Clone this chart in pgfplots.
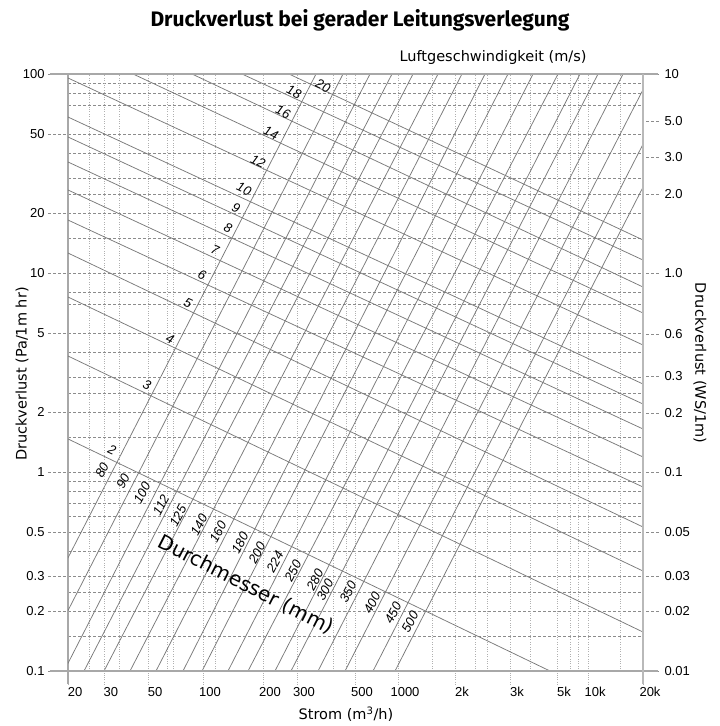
\documentclass[border=0pt]{standalone}
\usepackage{fontspec}
\setmainfont{Liberation Sans}
\newfontfamily\dejavu{DejaVu Sans}
\newfontfamily\fira{Fira Sans}
\usepackage{pgfplots}
\pgfplotsset{compat=1.18}
\definecolor{lin}{HTML}{7A7A7A}
\definecolor{axl}{HTML}{A8A8A8}
\definecolor{grd}{HTML}{8C8C8C}
\definecolor{vgrd}{HTML}{B0B0B0}
\pgfplotsset{myax/.style={at={(68pt,55pt)}, anchor=south west, scale only axis,
  width=575pt, height=597pt, xmin=20, xmax=20000, ymin=0.1, ymax=100,
  tick label style={font=\fontsize{13}{13}\selectfont}, minor tick length=0pt},
  dl/.style={lin, solid, line width=0.75pt, mark=none}}
\begin{document}
\begin{tikzpicture}
\useasboundingbox (0,0) rectangle (720pt,726pt);
% left ticks + horizontal grid
\begin{loglogaxis}[myax, axis line style={draw=none}, xtick=\empty,
  ytick={0.1,0.2,0.3,0.5,1,2,5,10,20,50,100},
  yticklabels={0.1,0.2,0.3,0.5,1,2,5,10,20,50,100},
  minor ytick={0.15,0.25,0.4,0.6,0.7,0.8,0.9,1.5,2.5,3,4,7,8,15,25,30,40,70,80,90},
  ytick pos=left, tick align=outside, major tick length=20pt,
  ymajorgrids, yminorgrids,
  grid style={grd, dash pattern=on 3pt off 2pt, line width=0.5pt},
  tick style={grd, dash pattern=on 3pt off 2pt, line width=0.5pt}]
\end{loglogaxis}
% bottom ticks + vertical grid
\begin{loglogaxis}[myax, axis line style={draw=none}, ytick=\empty,
  xtick={20,30.8,52.3,101.3,208.2,313.3,628.8,1053.9,2090,4048,7118,10332,20000},
  xticklabels={20,30,50,100,200,300,500,1000,2k,3k,5k,10k,20k},
  minor xtick={25.7,36.9,65.7,70.6,116.9,482.6,564.3,1585.6,2658,3070,5146,8318,9158,15172},
  xtick pos=bottom, tick align=outside, major tick length=13pt,
  xmajorgrids, xminorgrids,
  grid style={vgrd, dotted, line width=0.6pt},
  tick style={vgrd, dotted, line width=0.6pt},
  xticklabel style={xshift=7pt}]
\end{loglogaxis}
% right ticks
\begin{loglogaxis}[myax, ymin=0.01, ymax=10, axis line style={draw=none}, xtick=\empty,
  ytick={10,5.81,3.83,2.49,1,0.493,0.304,0.198,0.1,0.05,0.03,0.02,0.01},
  yticklabels={10,5.0,3.0,2.0,1.0,0.6,0.3,0.2,0.1,0.05,0.03,0.02,0.01},
  ytick pos=right, yticklabel pos=right, tick align=outside, major tick length=16pt,
  tick style={grd, dash pattern=on 3pt off 2pt, line width=0.5pt},
  yticklabel style={xshift=2pt}]
\end{loglogaxis}
% data
\begin{loglogaxis}[myax, xtick=\empty, ytick=\empty, axis line style={axl, line width=1.2pt}]
% velocity lines (m/s)
\addplot[dl] coordinates {(20,1.466) (6544,0.1)};
\addplot[dl] coordinates {(20,3.828) (20000,0.1570)};
\addplot[dl] coordinates {(20,7.575) (20000,0.3180)};
\addplot[dl] coordinates {(20,12.60) (20000,0.5292)};
\addplot[dl] coordinates {(20,18.46) (20000,0.8407)};
\addplot[dl] coordinates {(20,26.13) (20000,1.190)};
\addplot[dl] coordinates {(20,36.13) (20000,1.645)};
\addplot[dl] coordinates {(20,48.25) (20000,2.196)};
\addplot[dl] coordinates {(20,60.78) (20000,2.768)};
\addplot[dl] coordinates {(20,95.48) (20000,4.347)};
\addplot[dl] coordinates {(43.7,100) (20000,6.295)};
\addplot[dl] coordinates {(88.7,100) (20000,8.503)};
\addplot[dl] coordinates {(161.8,100) (20000,11.62)};
\addplot[dl] coordinates {(284.4,100) (20000,14.65)};
% diameter lines (mm)
\addplot[dl] coordinates {(9.96,0.1) (393.6,100)};
\addplot[dl] coordinates {(13.78,0.1) (544.4,100)};
\addplot[dl] coordinates {(19.07,0.1) (752.8,100)};
\addplot[dl] coordinates {(24.24,0.1) (980.4,100)};
\addplot[dl] coordinates {(30.83,0.1) (1262,100)};
\addplot[dl] coordinates {(42.13,0.1) (1704,100)};
\addplot[dl] coordinates {(57.56,0.1) (2272,100)};
\addplot[dl] coordinates {(79.62,0.1) (2996,100)};
\addplot[dl] coordinates {(100.06,0.1) (3950,100)};
\addplot[dl] coordinates {(136.7,0.1) (5336,100)};
\addplot[dl] coordinates {(173.9,0.1) (7204,100)};
\addplot[dl] coordinates {(240.4,0.1) (9386,100)};
\addplot[dl] coordinates {(291.4,0.1) (11650,100)};
\addplot[dl] coordinates {(403.2,0.1) (15728,100)};
\addplot[dl] coordinates {(557.6,0.1) (22020,100)};
\addplot[dl] coordinates {(780.6,0.1) (30820,100)};
\addplot[dl] coordinates {(1016.6,0.1) (40140,100)};
\end{loglogaxis}
\begin{scope}[x=1pt,y=1pt]
% axis extensions
\draw[axl, line width=1.2pt] (50,652) -- (658,652);
\draw[axl, line width=1.2pt] (50,55) -- (658,55);
\draw[axl, line width=1.2pt] (68,42) -- (68,55);
\draw[axl!80, line width=2.4pt] (643,42) -- (643,652);
% velocity labels
\begin{scope}[every node/.style={font=\itshape\fontsize{13}{13}\selectfont, rotate=-25, inner sep=0pt}]
\node at (323,640) {20};
\node at (294,634) {18};
\node at (283,614) {16};
\node at (271,593) {14};
\node at (258,565) {12};
\node at (244,537) {10};
\node at (236,518) {9};
\node at (228,498) {8};
\node at (215,476) {7};
\node at (202,451) {6};
\node at (188,423) {5};
\node at (170,387) {4};
\node at (147,341) {3};
\node at (112,276) {2};
\end{scope}
% diameter labels
\begin{scope}[every node/.style={font=\itshape\fontsize{13}{13}\selectfont, rotate=62, inner sep=0pt}]
\node at (102,256) {80};
\node at (123,245) {90};
\node at (142,233) {100};
\node at (161,221) {112};
\node at (178,210) {125};
\node at (199,201) {140};
\node at (218,194) {160};
\node at (240,183) {180};
\node at (257,173) {200};
\node at (275,164) {224};
\node at (293,155) {250};
\node at (315,146) {280};
\node at (325,136) {300};
\node at (348,134) {350};
\node at (372,123) {400};
\node at (393,113) {450};
\node at (410,104) {500};
\end{scope}
\node[font=\dejavu\fontsize{20}{20}\selectfont, rotate=-27] at (246,141) {Durchmesser (mm)};
% titles and axis labels
\node[font=\fira\bfseries\fontsize{21}{21}\selectfont] at (360,706) {Druckverlust bei gerader Leitungsverlegung};
\node[font=\dejavu\fontsize{14.5}{14.5}\selectfont] at (493,668) {Luftgeschwindigkeit (m/s)};
\node[font=\dejavu\fontsize{14.5}{14.5}\selectfont, rotate=90] at (22,352) {Druckverlust (Pa/1m hr)};
\node[font=\dejavu\fontsize{14.5}{14.5}\selectfont, rotate=-90] at (700,363) {Druckverlust (WS/1m)};
\node[font=\dejavu\fontsize{14.5}{14.5}\selectfont] at (346,12) {Strom (m\textsuperscript{3}/h)};
\end{scope}
\end{tikzpicture}
\end{document}
